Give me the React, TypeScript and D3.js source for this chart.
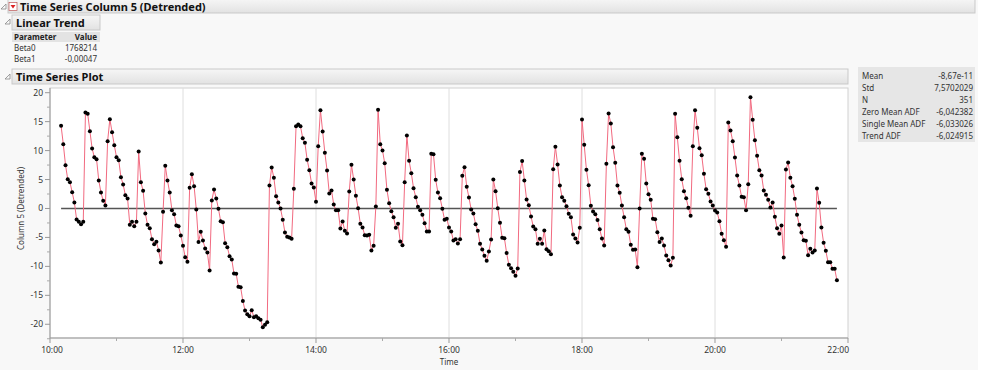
import React from 'react';
import * as d3 from 'd3';

const W = 999;
const H = 370;

// Detrended Column 5 values, one every 2 minutes starting 10:10
const values: number[] = [
  14.28, 11.11, 7.48, 5.07, 4.55, 2.82, 1.04, -1.9, -2.3, -2.71,
  -2.3, 16.58, 16.35, 13.36, 10.36, 8.86, 8.52, 4.84, 2.76, 1.32,
  0.52, 11.63, 15.43, 13.18, 10.94, 8.86, 8.35, 5.41, 4.15, 2.3,
  1.73, -2.82, -2.3, -3.05, -2.3, 9.84, 4.55, 3.05, -0.86, -2.82,
  -3.4, -5.3, -6.16, -5.76, -7.25, -9.33, -0.58, 7.37, 4.84, 2.76,
  -0.29, -0.98, -2.94, -3.05, -4.66, -6.45, -8.41, -9.21, 3.57, 5.93,
  3.86, -0.17, -5.81, -4.03, -5.53, -6.91, -7.6, -10.71, 1.38, 3.28,
  1.73, -0.06, -2.19, -2.36, -5.99, -6.68, -8.23, -8.81, -11.23, -11.28,
  -13.53, -13.59, -16.0, -17.62, -18.25,
  -18.6, -17.56, -18.77, -18.6, -18.94, -19.2, -20.5, -20.09, -19.63,
  3.97, 7.08, 5.3, 2.13, 1.04, 0.0, -1.96, -4.15, -4.89, -5.01,
  -5.24, 3.4, 14.22, 14.51, 14.22, 12.15, 11.34, 8.41, 6.62, 4.32,
  3.63, 1.15, 10.77, 16.98, 13.3, 9.61, 6.56, 2.59, 3.11, 0.69,
  -0.29, -0.29, -3.45, -2.25, -3.86, -4.3, 2.94,
  7.54, 5.01, 2.19, 0.06, -2.65, -3.28, -4.61, -4.66, -4.55, -7.25,
  -6.45, 0.35, 17.04, 11.11, 10.02, 7.83, 3.22, 0.92, -0.46, -1.5,
  -3.34, -2.65, -5.7, -6.33, 4.55, 12.61, 8.23, 6.1, 3.51, 1.96,
  0.29, -0.29, -1.09, -2.53, -3.97, -3.97, 9.44, 9.38, 4.95, 2.76,
  1.78, -0.06, -1.96, -1.78, -3.28,
  -3.97, -5.53, -5.3, -6.04, -5.3, 5.64, 7.14, 3.74, 1.9, -0.17,
  -0.86, -2.71, -3.86, -6.1, -7.08, -8.18, -9.04, -7.43, -5.35, 5.01,
  2.99, 0.06, -2.48, -5.07, -5.12, -7.71, -9.73, -10.31, -10.94, -11.63,
  -10.36, 6.28, 8.18, 4.84, 1.55, 0.58, -1.38, -3.11, -3.57, -6.1,
  -5.24, -6.1, -3.8, -7.02, -7.4,
  -7.89, 6.79, 10.65, 7.6, 3.97, 1.96, 1.32, 0.4, -0.92, -1.5,
  -4.49, -5.18, -5.87, -3.34, 15.37, 11.0, 6.68, 4.03, 0.46, -0.52,
  -0.98, -2.01, -3.57, -5.18, -6.39, 7.71, 16.41, 14.68, 10.59, 7.89,
  3.97, 2.71, 0.52, -1.5, -3.57, -4.03, -6.28, -7.14, -7.08, -10.13,
  0.0, 9.44, 8.58, 4.32, 2.48,
  1.5, -1.78, -1.84, -4.09, -5.81, -5.18, -6.39, -8.12, -8.92, -9.84,
  -8.52, 16.35, 12.32, 8.23, 5.07, 2.99, 1.78, 0.12, -1.27, 10.77,
  16.98, 13.93, 10.42, 9.21, 5.99, 3.34, 2.53, 1.21, 0.52, -0.35,
  -0.69, -2.19, -4.38, -5.47, -6.62, 14.85, 13.47, 11.63, 8.81, 5.7,
  3.97, 2.01, 1.96, -0.29, 4.2,
  19.23, 15.31, 11.8, 9.1, 6.62, 5.7, 3.11, 2.36, 1.5, 0.17,
  1.04, -1.44, -3.4, -4.38, -2.94, -8.46, 6.74, 7.94, 5.3, 3.86,
  1.67, -1.09, -2.82, -4.15, -5.47, -5.58, -8.06, -6.97, -7.6, -7.25,
  3.45, 0.98, -3.28, -5.93, -7.31, -9.27, -9.27, -10.42, -10.42, -12.38,
];

const startHour = 10;
const startMinute = 10;
const stepMinutes = 2;

const yTicks = [-20, -15, -10, -5, 0, 5, 10, 15, 20];
const yMinorTicks = [-22.5, -17.5, -12.5, -7.5, -2.5, 2.5, 7.5, 12.5, 17.5];
const xTickHours = [10, 12, 14, 16, 18, 20, 22];
const xMinorHours = [11, 13, 15, 17, 19, 21];

const paramNames = ['Beta0', 'Beta1'];
const paramValues = ['1768214', '-0,00047'];

const statNames = ['Mean', 'Std', 'N', 'Zero Mean ADF', 'Single Mean ADF', 'Trend ADF'];
const statValues = ['-8,67e-11', '7,5702029', '351', '-6,042382', '-6,033026', '-6,024915'];

const FONT = '"Noto Sans", "Open Sans", Arial, sans-serif';
const TEXT = '#333';

const day = (h: number, m = 0) => new Date(2020, 0, 1, h, m);

function Bar({ x, y, w, h, label, size }: { x: number; y: number; w: number; h: number; label: string; size: number }) {
  return (
    <g>
      <rect x={x} y={y} width={w} height={h} fill="url(#barGrad)" stroke="#c9c9c9" strokeWidth={1} />
      <text x={x + 4} y={y + h - 3.5} fontFamily={FONT} fontWeight="bold" fontSize={size} fill="#111">{label}</text>
    </g>
  );
}

function Disclosure({ x, y }: { x: number; y: number }) {
  return <path d={`M${x},${y + 6} L${x + 5},${y + 6} L${x + 5},${y + 1} Z`} fill="none" stroke="#888" strokeWidth={0.8} />;
}

export default function App() {
  const x = d3.scaleTime().domain([day(10), day(22)]).range([50, 848]);
  const y = d3.scaleLinear().domain([-22.37, 20.81]).range([338, 88]);

  const pts = values.map((v, i) => ({ t: day(startHour, startMinute + i * stepMinutes), v }));
  const line = d3.line<{ t: Date; v: number }>().x((d) => x(d.t)).y((d) => y(d.v));
  const fmt = d3.timeFormat('%H:%M');

  const x0 = x(pts[0].t);
  const x1 = x(pts[pts.length - 1].t);

  return (
    <svg width={W} height={H} style={{ position: 'absolute', left: 0, top: 0 }}>
      <defs>
        <linearGradient id="barGrad" x1="0" y1="0" x2="0" y2="1">
          <stop offset="0" stopColor="#f6f6f6" />
          <stop offset="1" stopColor="#e2e2e2" />
        </linearGradient>
      </defs>
      <rect x={0} y={0} width={W} height={H} fill="#f8f8f8" />
      <rect x={978} y={0} width={21} height={H} fill="#ffffff" />

      {/* top title bar */}
      <Disclosure x={1} y={3} />
      <rect x={8} y={-1} width={967} height={14} fill="url(#barGrad)" stroke="#c9c9c9" />
      <rect x={9} y={2.5} width={8} height={8} fill="#fff" stroke="#b55" strokeWidth={0.7} />
      <path d="M10.5,5 L15.5,5 L13,8.5 Z" fill="#d22" />
      <text x={20} y={11} fontFamily={FONT} fontWeight="bold" fontSize={11} fill="#111">Time Series Column 5 (Detrended)</text>

      {/* Linear trend */}
      <Disclosure x={5} y={18} />
      <Bar x={12} y={15} w={88} h={15} label="Linear Trend" size={11} />
      <rect x={12} y={32} width={88} height={10} fill="#e3e3e3" />
      <text x={14} y={40} fontFamily={FONT} fontWeight="bold" fontSize={8} fill="#222">Parameter</text>
      <text x={97} y={40} textAnchor="end" fontFamily={FONT} fontWeight="bold" fontSize={8} fill="#222">Value</text>
      {paramNames.map((n, i) => (
        <g key={n}>
          <text x={14} y={51 + i * 11} fontFamily={FONT} fontSize={8} fill={TEXT}>{n}</text>
          <text x={97} y={51 + i * 11} textAnchor="end" fontFamily={FONT} fontSize={8} fill={TEXT}>{paramValues[i]}</text>
        </g>
      ))}

      {/* Time series plot bar */}
      <Disclosure x={5} y={73} />
      <Bar x={12} y={69} w={836} h={15} label="Time Series Plot" size={11} />

      {/* stats box */}
      <rect x={858} y={67} width={117} height={75} fill="#e6e6e6" />
      {statNames.map((n, i) => (
        <g key={n}>
          <text x={862} y={78.5 + i * 12} fontFamily={FONT} fontSize={8} fill={TEXT}>{n}</text>
          <text x={973} y={78.5 + i * 12} textAnchor="end" fontFamily={FONT} fontSize={8} fill={TEXT}>{statValues[i]}</text>
        </g>
      ))}

      {/* plot area */}
      <rect x={50} y={88} width={798} height={250} fill="#ffffff" stroke="#d0d0d0" />
      {xTickHours.slice(1, -1).map((h) => (
        <line key={h} x1={x(day(h))} x2={x(day(h))} y1={88} y2={338} stroke="#dedede" strokeWidth={1} />
      ))}
      <line x1={x0} x2={x1} y1={y(0)} y2={y(0)} stroke="#555" strokeWidth={1.3} />
      <path d={line(pts) ?? ''} fill="none" stroke="#f26a80" strokeWidth={1} />
      {pts.map((p, i) => (
        <circle key={i} cx={x(p.t)} cy={y(p.v)} r={2} fill="#000" />
      ))}

      {/* y axis */}
      <line x1={50} x2={50} y1={88} y2={338} stroke="#999" />
      {yTicks.map((t) => (
        <g key={t}>
          <line x1={45} x2={50} y1={y(t)} y2={y(t)} stroke="#999" />
          <text x={43} y={y(t) + 3} textAnchor="end" fontFamily={FONT} fontSize={8.5} fill={TEXT}>{t}</text>
        </g>
      ))}
      {yMinorTicks.map((t) => (
        <line key={t} x1={47} x2={50} y1={y(t)} y2={y(t)} stroke="#aaa" />
      ))}
      <text transform={`translate(24,${y(0)}) rotate(-90)`} textAnchor="middle" fontFamily={FONT} fontSize={8} fill={TEXT}>Column 5 (Detrended)</text>

      {/* x axis */}
      <line x1={50} x2={848} y1={338} y2={338} stroke="#999" />
      {xTickHours.map((h, i) => {
        const last = i === xTickHours.length - 1;
        const first = i === 0;
        const tx = x(day(h)) + (first ? 2 : 0) + (last ? 1 : 0);
        return (
          <g key={h}>
            <line x1={x(day(h))} x2={x(day(h))} y1={338} y2={343} stroke="#999" />
            <text x={tx} y={353} textAnchor={last ? 'end' : 'middle'} fontFamily={FONT} fontSize={8.5} fill={TEXT}>{fmt(day(h))}</text>
          </g>
        );
      })}
      {xMinorHours.map((h) => (
        <line key={h} x1={x(day(h))} x2={x(day(h))} y1={338} y2={341} stroke="#aaa" />
      ))}
      <text x={449} y={365} textAnchor="middle" fontFamily={FONT} fontSize={8} fill={TEXT}>Time</text>
    </svg>
  );
}
